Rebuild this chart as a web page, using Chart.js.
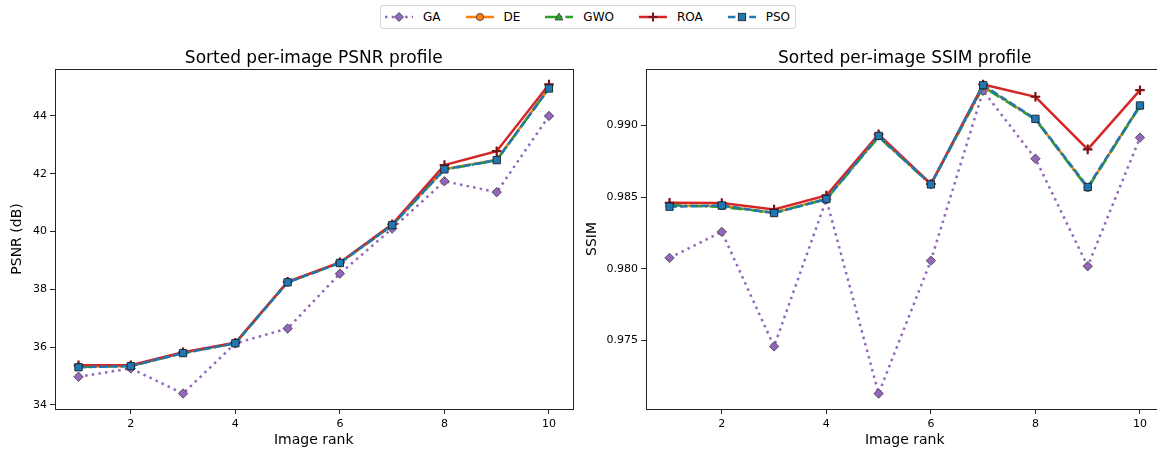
<!DOCTYPE html>
<html>
<head>
<meta charset="utf-8">
<script src="https://cdn.jsdelivr.net/npm/chart.js@4/dist/chart.umd.min.js"></script>
<style>
  html, body { margin: 0; padding: 0; background: #fff; overflow: hidden; width: 1157px; height: 452px; }
  #wrap { position: relative; width: 1157px; height: 452px; overflow: hidden; font-family: 'DejaVu Sans', sans-serif; }
  canvas { position: absolute; top: 36px; }
  #psnr-chart { left: 0; }
  #ssim-chart { left: 575px; }
  #legend {
    position: absolute; left: 380px; top: 5px; height: 22px;
    border: 1px solid #d6d6d6; border-radius: 3px; background: #fff;
    display: flex; align-items: center; padding: 0 5px 0 4px;
    font-size: 12px; color: #000;
  }
  .item { display: flex; align-items: center; margin-right: 25px; }
  .item:last-child { margin-right: 0; }
  .item svg { width: 28px; height: 12px; margin-right: 10px; }
</style>
</head>
<body>
<div id="wrap">
  <div id="legend"></div>
  <canvas id="psnr-chart" width="580" height="416"></canvas>
  <canvas id="ssim-chart" width="599" height="416"></canvas>
</div>
<script>
// --- data ---
const ranks = [1, 2, 3, 4, 5, 6, 7, 8, 9, 10];
const rankTicks = [2, 4, 6, 8, 10];

const psnrGA  = [34.97, 35.26, 34.39, 36.13, 36.64, 38.54, 40.10, 41.74, 41.36, 44.00];
const psnrDE  = [35.32, 35.35, 35.80, 36.14, 38.25, 38.92, 40.23, 42.16, 42.48, 44.97];
const psnrGWO = [35.31, 35.34, 35.79, 36.13, 38.24, 38.91, 40.21, 42.14, 42.46, 44.96];
const psnrROA = [35.37, 35.37, 35.82, 36.15, 38.26, 38.93, 40.25, 42.30, 42.78, 45.09];
const psnrPSO = [35.30, 35.34, 35.79, 36.13, 38.24, 38.91, 40.22, 42.15, 42.47, 44.95];
const psnrTicks = [34, 36, 38, 40, 42, 44];

const ssimGA  = [0.98076, 0.98258, 0.97458, 0.98484, 0.97129, 0.98057, 0.99243, 0.98769, 0.98018, 0.98916];
const ssimDE  = [0.98440, 0.98438, 0.98392, 0.98490, 0.98925, 0.98590, 0.99275, 0.99045, 0.98565, 0.99138];
const ssimGWO = [0.98445, 0.98432, 0.98392, 0.98485, 0.98920, 0.98588, 0.99270, 0.99042, 0.98562, 0.99135];
const ssimROA = [0.98461, 0.98459, 0.98414, 0.98512, 0.98939, 0.98592, 0.99287, 0.99201, 0.98834, 0.99247];
const ssimPSO = [0.98433, 0.98442, 0.98389, 0.98487, 0.98928, 0.98589, 0.99282, 0.99047, 0.98571, 0.99140];
const ssimTicks = [0.975, 0.980, 0.985, 0.990];

const methods = ['GA', 'DE', 'GWO', 'ROA', 'PSO'];

// line / marker style per method (matplotlib tab colours)
const styles = {
  GA:  { color: '#9467bd', dash: [2.5, 4.2], width: 2.5, point: 'rectRot',  radius: 4.7, fill: '#9467bd', edge: '#3a3a3a', edgeW: 0.8 },
  DE:  { color: '#ff7f0e', dash: [],          width: 2.5, point: 'circle',   radius: 3.6, fill: '#ff7f0e', edge: '#3a3a3a', edgeW: 0.8 },
  GWO: { color: '#2ca02c', dash: [12, 3.2, 2, 3.2], width: 2.5, point: 'triangle', radius: 4.2, fill: '#2ca02c', edge: '#3a3a3a', edgeW: 0.8 },
  ROA: { color: '#d62728', dash: [],          width: 2.5, point: 'cross',    radius: 4.8, fill: '#d62728', edge: '#7a1416', edgeW: 2.2 },
  PSO: { color: '#1f77b4', dash: [7.4, 3.2],  width: 2.5, point: 'rect',     radius: 5.2, fill: '#1f77b4', edge: '#1a1a1a', edgeW: 0.8 }
};
// PSO is drawn on top, GA at the bottom
const drawOrder = { GA: 4, DE: 3, GWO: 2, ROA: 1, PSO: 0 };

const fontFamily = "'DejaVu Sans', sans-serif";
const ink = '#222';

const framePlugin = {
  id: 'frame',
  afterDatasetsDraw(chart) {
    const { ctx, chartArea: a } = chart;
    ctx.save();
    ctx.strokeStyle = ink;
    ctx.lineWidth = 1;
    ctx.strokeRect(Math.round(a.left) + 0.5, Math.round(a.top) + 0.5,
                   Math.round(a.right - a.left), Math.round(a.bottom - a.top));
    ctx.restore();
  }
};

function paddedRange(seriesList) {
  const all = seriesList.flat();
  const lo = Math.min(...all), hi = Math.max(...all);
  const m = (hi - lo) * 0.05;
  return [lo - m, hi + m];
}

function makeDatasets(series) {
  return methods.map(name => {
    const s = styles[name];
    return {
      label: name,
      data: ranks.map((r, i) => ({ x: r, y: series[name][i] })),
      borderColor: s.color,
      borderWidth: s.width,
      borderDash: s.dash,
      tension: 0,
      pointStyle: s.point,
      pointRadius: s.radius,
      pointBackgroundColor: s.fill,
      pointBorderColor: s.edge,
      pointBorderWidth: s.edgeW,
      order: drawOrder[name]
    };
  });
}

function buildChart(canvasId, opts) {
  const [yMin, yMax] = paddedRange(Object.values(opts.series));
  const [xMin, xMax] = paddedRange([ranks]);
  return new Chart(document.getElementById(canvasId), {
    type: 'line',
    data: { datasets: makeDatasets(opts.series) },
    options: {
      responsive: false,
      animation: false,
      events: [],
      layout: { padding: { left: 0, right: opts.padRight, top: 0, bottom: 0 } },
      plugins: {
        legend: { display: false },
        tooltip: { enabled: false },
        title: {
          display: true, text: opts.title, color: '#000', fullSize: false,
          font: { family: fontFamily, size: 17, weight: 'normal' },
          padding: { top: 12.2, bottom: 0.4 }
        }
      },
      scales: {
        x: {
          type: 'linear', min: xMin, max: xMax,
          afterBuildTicks: s => { s.ticks = rankTicks.map(v => ({ value: v })); },
          afterFit: s => { s.height = 43; },
          grid: { drawOnChartArea: false, tickLength: 5, tickColor: ink, tickWidth: 1 },
          border: { display: false },
          ticks: { color: '#000', padding: 4, font: { family: fontFamily, size: 11 } },
          title: {
            display: true, text: 'Image rank', color: '#000',
            font: { family: fontFamily, size: 14 }, padding: { top: 0, bottom: 3.6 }
          }
        },
        y: {
          type: 'linear', min: yMin, max: yMax,
          afterBuildTicks: s => { s.ticks = opts.yTicks.map(v => ({ value: v })); },
          afterFit: s => { s.width = opts.yWidth; },
          grid: { drawOnChartArea: false, tickLength: 5, tickColor: ink, tickWidth: 1 },
          border: { display: false },
          ticks: {
            color: '#000', padding: 3, font: { family: fontFamily, size: 11 },
            callback: v => opts.yFormat(v)
          },
          title: {
            display: true, text: opts.yTitle, color: '#000',
            font: { family: fontFamily, size: 14 }, padding: { top: opts.yTitlePad, bottom: 0 }
          }
        }
      }
    },
    plugins: [framePlugin]
  });
}

buildChart('psnr-chart', {
  title: 'Sorted per-image PSNR profile',
  yTitle: 'PSNR (dB)',
  series: { GA: psnrGA, DE: psnrDE, GWO: psnrGWO, ROA: psnrROA, PSO: psnrPSO },
  yTicks: psnrTicks,
  yFormat: v => String(Math.round(v)),
  yWidth: 55, yTitlePad: 9, padRight: 7.5
});

buildChart('ssim-chart', {
  title: 'Sorted per-image SSIM profile',
  yTitle: 'SSIM',
  series: { GA: ssimGA, DE: ssimDE, GWO: ssimGWO, ROA: ssimROA, PSO: ssimPSO },
  yTicks: ssimTicks,
  yFormat: v => v.toFixed(3),
  yWidth: 71, yTitlePad: 8.6, padRight: 10.5
});

// --- figure legend (line + marker handles like matplotlib) ---
function markerSvg(name) {
  const s = styles[name];
  const e = `stroke="${s.edge}" stroke-width="${s.edgeW}"`;
  if (name === 'GA') return `<path d="M14 1.5 L18.5 6 L14 10.5 L9.5 6 Z" fill="${s.fill}" ${e}/>`;
  if (name === 'DE') return `<circle cx="14" cy="6" r="3.6" fill="${s.fill}" ${e}/>`;
  if (name === 'GWO') return `<path d="M14 2 L18 9 L10 9 Z" fill="${s.fill}" ${e}/>`;
  if (name === 'ROA') return `<path d="M9.5 6 H18.5 M14 1.5 V10.5" stroke="${s.edge}" stroke-width="2"/>`;
  return `<rect x="10.3" y="2.3" width="7.4" height="7.4" fill="${s.fill}" ${e}/>`;
}

const legend = document.getElementById('legend');
methods.forEach(name => {
  const s = styles[name];
  const item = document.createElement('div');
  item.className = 'item';
  item.innerHTML =
    `<svg viewBox="0 0 28 12"><line x1="0" y1="6" x2="28" y2="6" stroke="${s.color}" stroke-width="2.5"` +
    (s.dash.length ? ` stroke-dasharray="${s.dash.join(' ')}"` : '') + `/>` + markerSvg(name) + `</svg>` +
    `<span>${name}</span>`;
  legend.appendChild(item);
});
</script>
</body>
</html>
